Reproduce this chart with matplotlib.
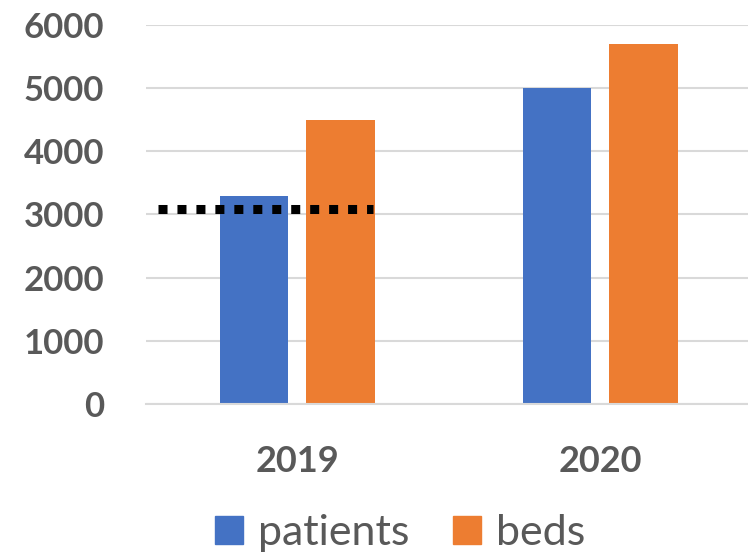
import matplotlib.pyplot as plt
import numpy as np
from matplotlib.patches import Patch

plt.rcParams['font.family'] = ['Lato', 'DejaVu Sans']

years = ['2019', '2020']
patients = [3300, 5000]
beds = [4500, 5700]
target = 3080  # dotted reference level over 2019

blue = '#4472C4'
orange = '#ED7D31'
grey = '#595959'

fig = plt.figure(figsize=(7.48, 5.60), dpi=100)
ax = fig.add_axes([0.195, 0.279, 0.81, 0.676])

x = np.arange(len(years))
w = 0.225
off = (w + 0.06) / 2
ax.bar(x - off, patients, width=w, color=blue, zorder=2)
ax.bar(x + off, beds, width=w, color=orange, zorder=2)

ax.plot([-0.46, 0.25], [target, target], color='black', linewidth=6.5,
        linestyle=(0, (1, 1.1)), solid_capstyle='butt', dash_capstyle='butt', zorder=3)

ax.set_xlim(-0.5, 1.5)
ax.set_ylim(0, 6000)
ax.set_yticks(range(0, 6001, 1000))
ax.set_xticks(x)
ax.set_xticklabels(years)
ax.yaxis.grid(True, color='#D9D9D9', linewidth=1.5, zorder=0)
ax.set_axisbelow(True)
for s in ['top', 'right', 'left']:
    ax.spines[s].set_visible(False)
ax.spines['bottom'].set_color('#D9D9D9')
ax.spines['bottom'].set_linewidth(1.5)
ax.tick_params(axis='y', length=0, labelsize=25, labelcolor=grey, pad=30)
ax.tick_params(axis='x', length=0, labelsize=26, labelcolor=grey, pad=30)
for lbl in ax.get_xticklabels() + ax.get_yticklabels():
    lbl.set_fontweight('bold')

handles = [Patch(color=blue, label='patients'), Patch(color=orange, label='beds')]
fig.legend(handles=handles, loc='lower center', bbox_to_anchor=(0.535, -0.055), ncol=2,
           frameon=False, fontsize=31, labelcolor=grey, handlelength=0.65,
           handleheight=0.65, handletextpad=0.35, columnspacing=1.0)

fig.savefig('out.png', dpi=100)
